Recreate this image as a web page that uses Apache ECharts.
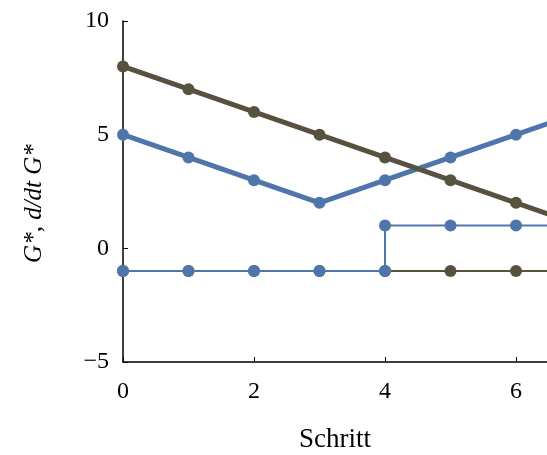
<!DOCTYPE html>
<html>
<head>
<meta charset="utf-8">
<script src="https://cdn.jsdelivr.net/npm/echarts@6/dist/echarts.min.js"></script>
<style>
  html, body { margin: 0; padding: 0; background: #fff; }
  #chart { width: 547px; height: 455px; }
</style>
</head>
<body>
<div id="chart"></div>
<script>
// Schritte (x) und Werte
var steps = [0, 1, 2, 3, 4, 5, 6, 7];
var gStar = [8, 7, 6, 5, 4, 3, 2, 1];          // dunkel, dick
var gBlue = [5, 4, 3, 2, 3, 4, 5, 6];          // blau, dick
var derivDark = [-1, -1, -1, -1, -1, -1, -1, -1]; // dunkel, dünn
// blau dünn: Sprung bei x=4
var derivBlueX = [0, 1, 2, 3, 4, 4, 5, 6, 7];
var derivBlueY = [-1, -1, -1, -1, -1, 1, 1, 1, 1];

var xTicks = [0, 2, 4, 6];
var yTicks = [-5, 0, 5, 10];

var dark = '#57523f';
var blue = '#4f76ab';
var serif = 'Liberation Serif, DejaVu Serif, serif';

function pairs(xs, ys) {
  var out = [];
  for (var i = 0; i < xs.length; i++) out.push([xs[i], ys[i]]);
  return out;
}

var chart = echarts.init(document.getElementById('chart'));
var option = {
  backgroundColor: '#ffffff',
  animation: false,
  grid: { left: 123, top: 21, right: 0, bottom: 93, containLabel: false, outerBoundsMode: 'none' },
  xAxis: {
    type: 'value',
    min: 0,
    max: 6.473,
    interval: 2,
    name: 'Schritt',
    nameLocation: 'middle',
    nameGap: 64,
    nameTextStyle: { fontFamily: serif, fontSize: 27, color: '#000' },
    axisLine: { show: true, onZero: false, lineStyle: { color: '#000', width: 1.5 } },
    axisTick: { show: true, inside: true, length: 5, lineStyle: { color: '#000', width: 1 } },
    axisLabel: {
      margin: 18, fontFamily: serif, fontSize: 24, color: '#000',
      formatter: function (v) { return xTicks.indexOf(v) >= 0 ? String(v) : ''; },
      showMaxLabel: false
    },
    splitLine: { show: false }
  },
  yAxis: {
    type: 'value',
    min: -5,
    max: 10,
    interval: 5,
    name: '{i|G*}{n|, }{i|d/dt G*}',
    nameLocation: 'middle',
    nameGap: 76,
    nameRotate: 90,
    nameTextStyle: {
      padding: [0, 24, 0, 0],
      rich: {
        i: { fontFamily: serif, fontStyle: 'italic', fontSize: 25, color: '#000' },
        n: { fontFamily: serif, fontSize: 25, color: '#000' }
      }
    },
    axisLine: { show: true, onZero: false, lineStyle: { color: '#000', width: 1.5 } },
    axisTick: { show: true, inside: true, length: 5, lineStyle: { color: '#000', width: 1 } },
    axisLabel: {
      margin: 14, fontFamily: serif, fontSize: 24, color: '#000',
      formatter: function (v) {
        if (yTicks.indexOf(v) < 0) return '';
        return v < 0 ? '\u2212' + Math.abs(v) : String(v);
      }
    },
    splitLine: { show: false }
  },
  series: [
    {
      name: 'dG dunkel', type: 'line', data: pairs(steps, derivDark),
      symbol: 'circle', symbolSize: 12, lineStyle: { color: dark, width: 2 },
      itemStyle: { color: dark }, clip: true, z: 2
    },
    {
      name: 'dG blau', type: 'line', data: pairs(derivBlueX, derivBlueY),
      symbol: 'circle', symbolSize: 12, lineStyle: { color: blue, width: 2 },
      itemStyle: { color: blue }, clip: true, z: 3
    },
    {
      name: 'G blau', type: 'line', data: pairs(steps, gBlue),
      symbol: 'circle', symbolSize: 12, lineStyle: { color: blue, width: 5 },
      itemStyle: { color: blue }, clip: true, z: 4
    },
    {
      name: 'G dunkel', type: 'line', data: pairs(steps, gStar),
      symbol: 'circle', symbolSize: 12, lineStyle: { color: dark, width: 5 },
      itemStyle: { color: dark }, clip: true, z: 5
    }
  ]
};
chart.setOption(option);
</script>
</body>
</html>
